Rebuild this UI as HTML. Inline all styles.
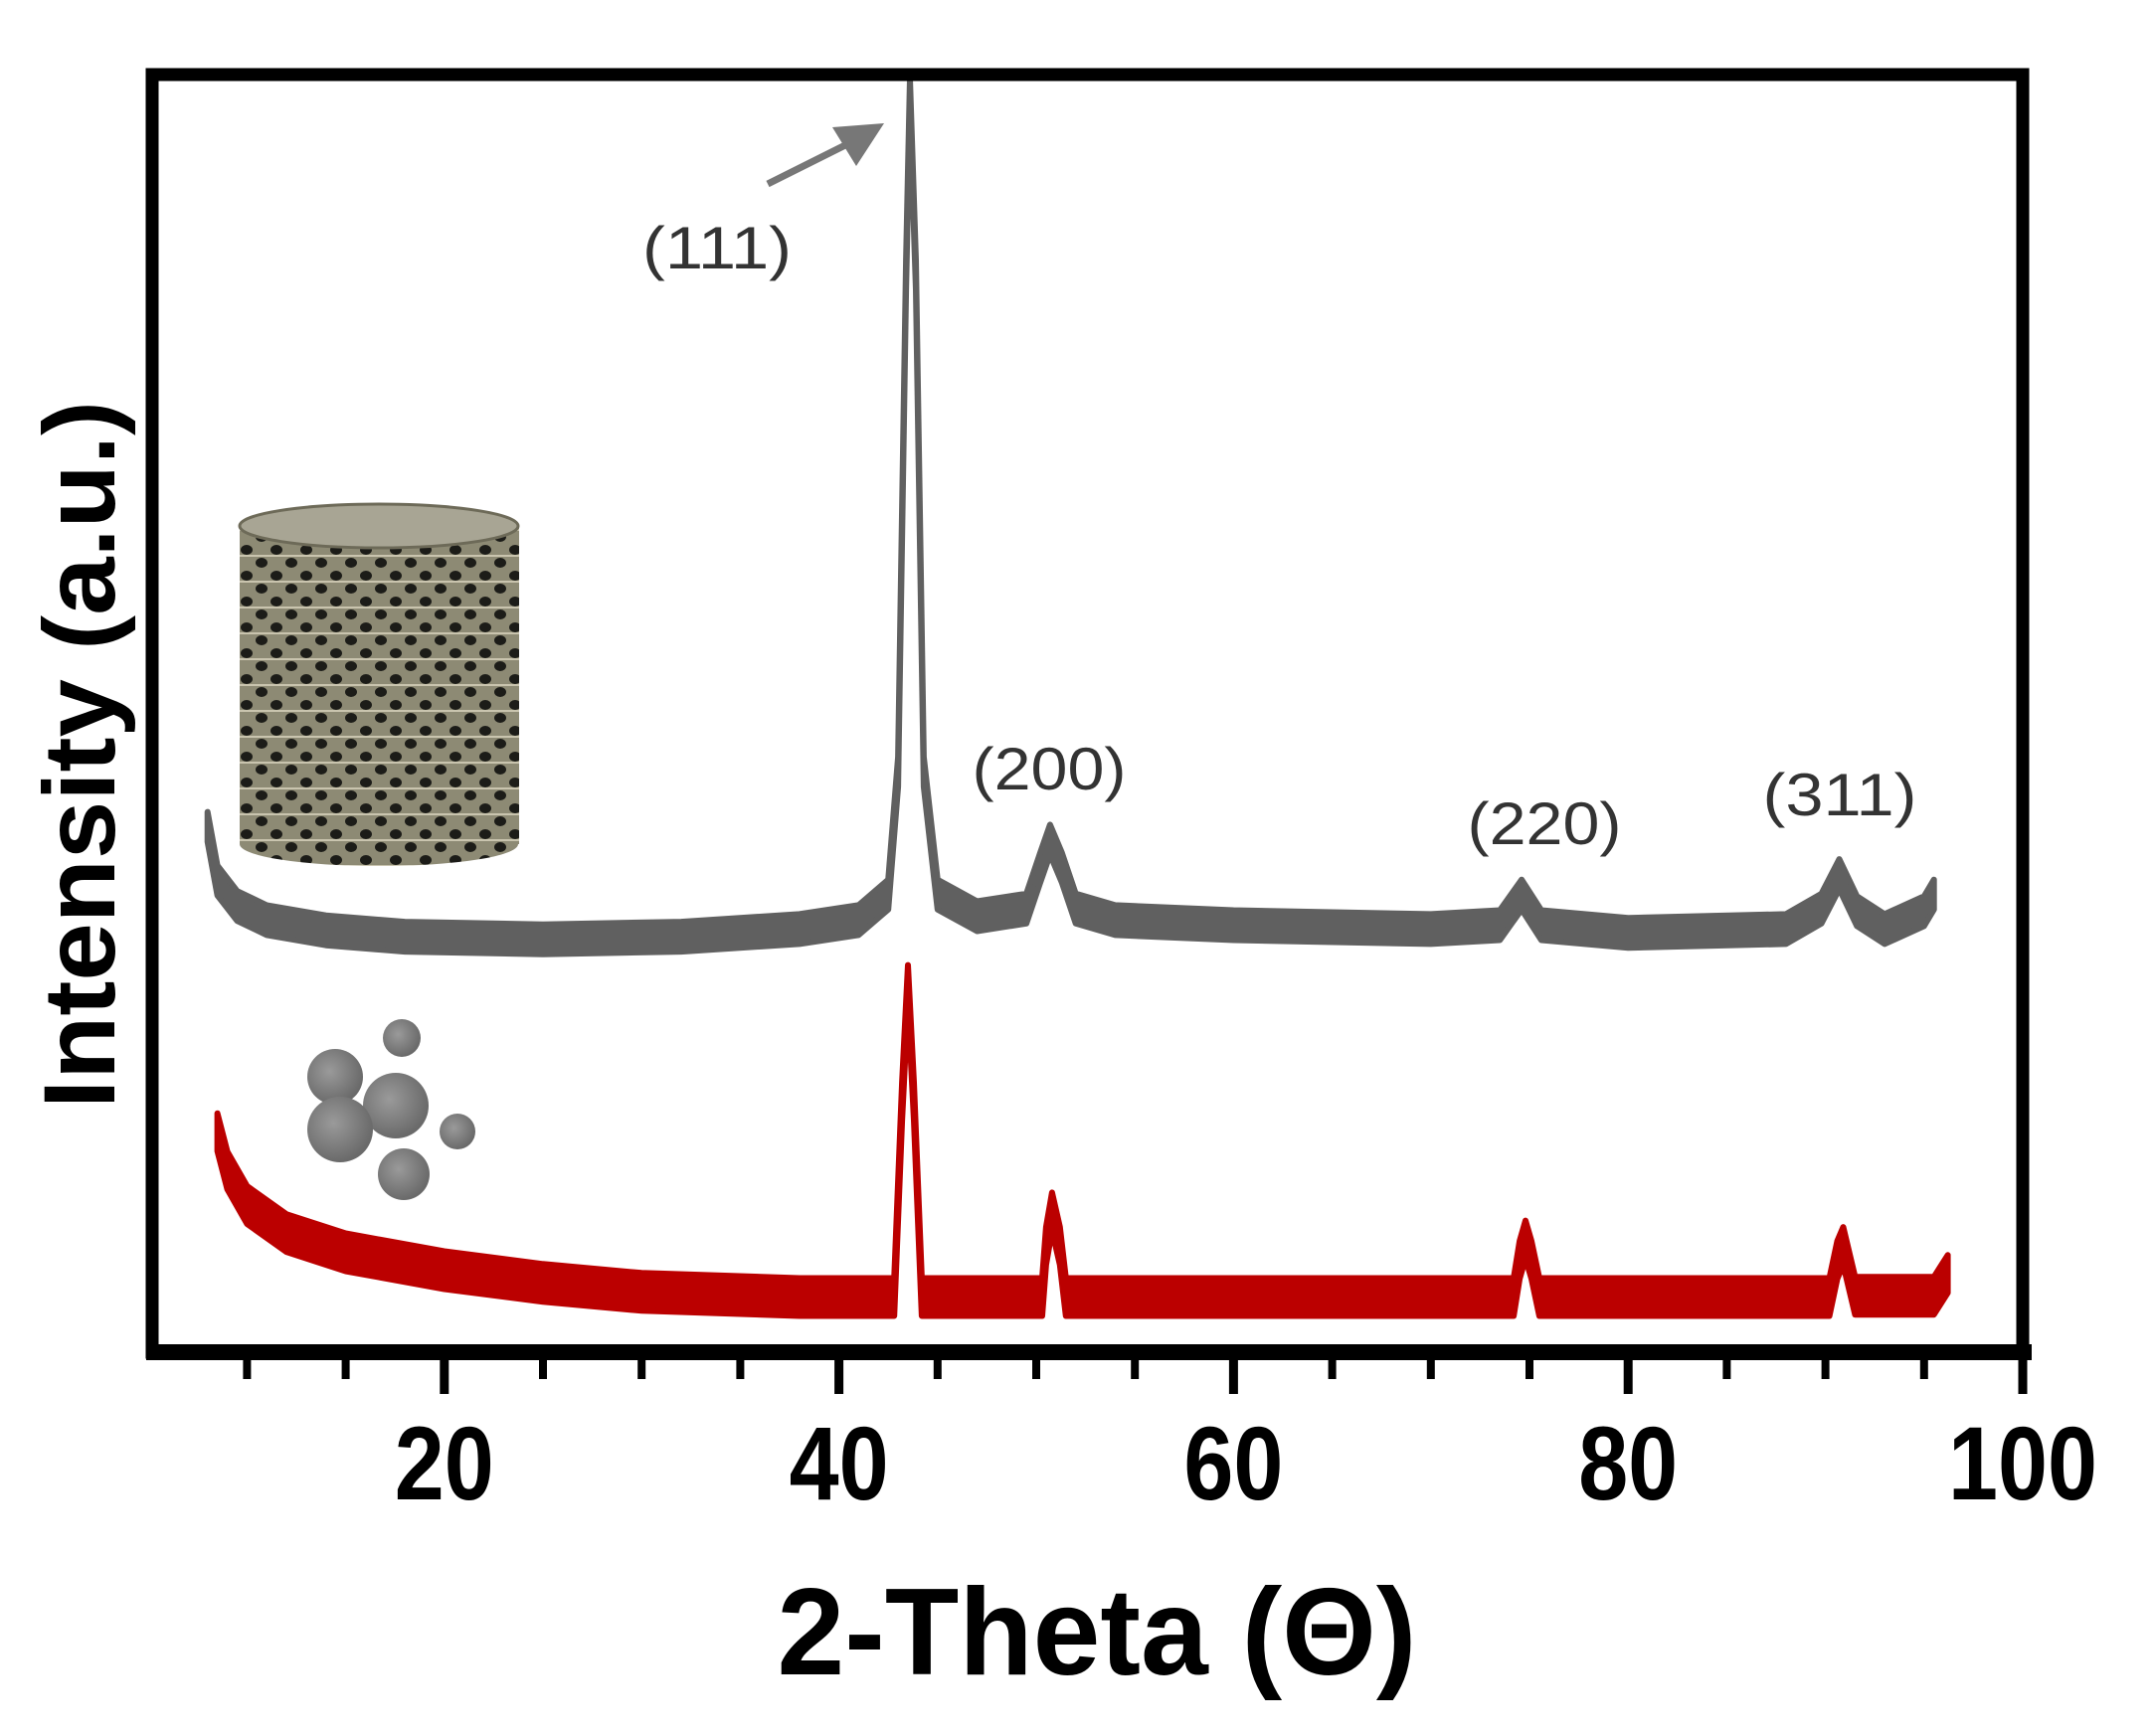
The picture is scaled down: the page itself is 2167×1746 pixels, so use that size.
<!DOCTYPE html>
<html><head><meta charset="utf-8"><style>
html,body{margin:0;padding:0;background:#fff;}
svg{display:block;}
text{font-family:"Liberation Sans",Arial,sans-serif;}
</style></head><body>
<svg id="chart" width="2167" height="1746" viewBox="0 0 2167 1746" xmlns="http://www.w3.org/2000/svg">
<defs>
<pattern id="mesh" width="30" height="26" patternUnits="userSpaceOnUse">
<rect width="30" height="26" fill="#8d8a74"/>
<ellipse cx="8" cy="7" rx="6" ry="5" fill="#1c1c18"/>
<ellipse cx="23" cy="20" rx="6" ry="5" fill="#1c1c18"/>
<path d="M0 13 L30 13" stroke="#c9c4ae" stroke-width="2"/>
</pattern>
<radialGradient id="ball" cx="0.4" cy="0.4" r="0.6"><stop offset="0" stop-color="#9a9a9a"/><stop offset="1" stop-color="#6a6a6a"/></radialGradient>
</defs>
<g id="plot"></g>
<g>
<rect x="241" y="529" width="281" height="320" fill="url(#mesh)"/>
<ellipse cx="381" cy="849" rx="140" ry="22" fill="url(#mesh)"/>
<ellipse cx="381" cy="529" rx="140" ry="22" fill="#a8a594"/>
<ellipse cx="381" cy="529" rx="140" ry="22" fill="none" stroke="#6d6a58" stroke-width="3"/>
</g>
<g>
<circle cx="337" cy="1083" r="28" fill="url(#ball)"/>
<circle cx="404" cy="1044" r="19" fill="url(#ball)"/>
<circle cx="398" cy="1112" r="33" fill="url(#ball)"/>
<circle cx="342" cy="1136" r="33" fill="url(#ball)"/>
<circle cx="406" cy="1181" r="26" fill="url(#ball)"/>
<circle cx="460" cy="1138" r="18" fill="url(#ball)"/>
</g>
<g>
<text x="721" y="270" font-size="60" fill="#333" text-anchor="middle" textLength="150" lengthAdjust="spacingAndGlyphs">(111)</text>
<line x1="772" y1="185" x2="850" y2="146" stroke="#777" stroke-width="7"/>
<polygon points="889,124 837,128 861,167" fill="#777"/>
</g>
<text x="1055" y="794" font-size="60" fill="#333" text-anchor="middle" textLength="155" lengthAdjust="spacingAndGlyphs">(200)</text>
<text x="1553" y="849" font-size="60" fill="#333" text-anchor="middle" textLength="155" lengthAdjust="spacingAndGlyphs">(220)</text>
<text x="1850" y="820" font-size="60" fill="#333" text-anchor="middle" textLength="155" lengthAdjust="spacingAndGlyphs">(311)</text>
<rect x="153" y="75" width="1881" height="1285" fill="none" stroke="#000" stroke-width="13"/>
<line x1="147" y1="1360" x2="2043" y2="1360" stroke="#000" stroke-width="16"/>
<g id="ticks"></g>
<text x="1103" y="1684" font-size="124" font-weight="bold" text-anchor="middle" textLength="643" lengthAdjust="spacingAndGlyphs">2-Theta (Θ)</text>
<text transform="translate(115,759) rotate(-90)" x="0" y="0" font-size="102" text-anchor="middle" textLength="712" lengthAdjust="spacingAndGlyphs" font-weight="bold">Intensity (a.u.)</text>
</svg>
<script>
const xTicksMajor = [20, 40, 60, 80, 100];
const xTicksMinor = [10, 15, 25, 30, 35, 45, 50, 55, 65, 70, 75, 85, 90, 95];
const xTickLabels = ["20", "40", "60", "80", "100"];
const scaffoldTheta = [8.0,8.5,9.5,11,14,18,25,32,38,41,42.5,43.0,43.4,43.6,43.9,44.3,45,47,49.5,50.2,50.7,51.3,52,54,60,70,73.5,74.6,75.6,80,88,89.8,90.7,91.6,93,95,95.5];
const scaffoldIntensity = [405,363,343,332,324,319,317,319,325,332,352,448,837,979,837,448,352,335,341,373,395,373,341,332,328,325,328,352,328,322,325,341,368,339,325,339,352];
const powderTheta = [8.5,9,10,12,15,20,25,30,38,42.8,43.2,43.5,43.8,44.2,50.3,50.5,50.8,51.2,51.5,74.2,74.5,74.8,75.1,75.5,90.2,90.6,90.9,91.5,95.5,96.2];
const powderIntensity = [166,136,109,87,72,58,48,41,37,37,190,282,190,37,37,77,104,77,37,37,66,82,66,37,37,66,77,38,38,55];

const NS = "http://www.w3.org/2000/svg";
function X(v){ return 2034 - (100 - v) * 19.84; }
function Y(v){ return 1352 - v * 1.285; }

function band(xs, ys, hw, color, name){
  const up = xs.map((x,i)=>X(x).toFixed(1)+","+(Y(ys[i])-hw).toFixed(1));
  const lo = xs.map((x,i)=>X(x).toFixed(1)+","+(Y(ys[i])+hw).toFixed(1)).reverse();
  const p = document.createElementNS(NS,"polygon");
  p.setAttribute("points", up.concat(lo).join(" "));
  p.setAttribute("fill", color);
  p.setAttribute("stroke", color);
  p.setAttribute("stroke-width", "6");
  p.setAttribute("stroke-linejoin", "round");
  
  
  document.getElementById("plot").appendChild(p);
}
band(scaffoldTheta, scaffoldIntensity, 15, "#606060", "scaffold-series");
band(powderTheta, powderIntensity, 19, "#bb0000", "powder-series");

const tg = document.getElementById("ticks");
xTicksMajor.forEach((v,i)=>{
  const l = document.createElementNS(NS,"line");
  l.setAttribute("x1",X(v)); l.setAttribute("x2",X(v));
  l.setAttribute("y1",1360); l.setAttribute("y2",1402);
  l.setAttribute("stroke","#000"); l.setAttribute("stroke-width","9");
  
  
  tg.appendChild(l);
  const t = document.createElementNS(NS,"text");
  t.setAttribute("x",X(v)); t.setAttribute("y",1508);
  t.setAttribute("font-size","105"); t.setAttribute("font-weight","bold");
  t.setAttribute("text-anchor","middle");
  t.setAttribute("textLength", xTickLabels[i].length*50);
  t.setAttribute("lengthAdjust","spacingAndGlyphs");
  t.textContent = xTickLabels[i];
  
  
  tg.appendChild(t);
});
xTicksMinor.forEach(v=>{
  const l = document.createElementNS(NS,"line");
  l.setAttribute("x1",X(v)); l.setAttribute("x2",X(v));
  l.setAttribute("y1",1360); l.setAttribute("y2",1387);
  l.setAttribute("stroke","#000"); l.setAttribute("stroke-width","8");
  
  
  tg.appendChild(l);
});
</script>
</body></html>
